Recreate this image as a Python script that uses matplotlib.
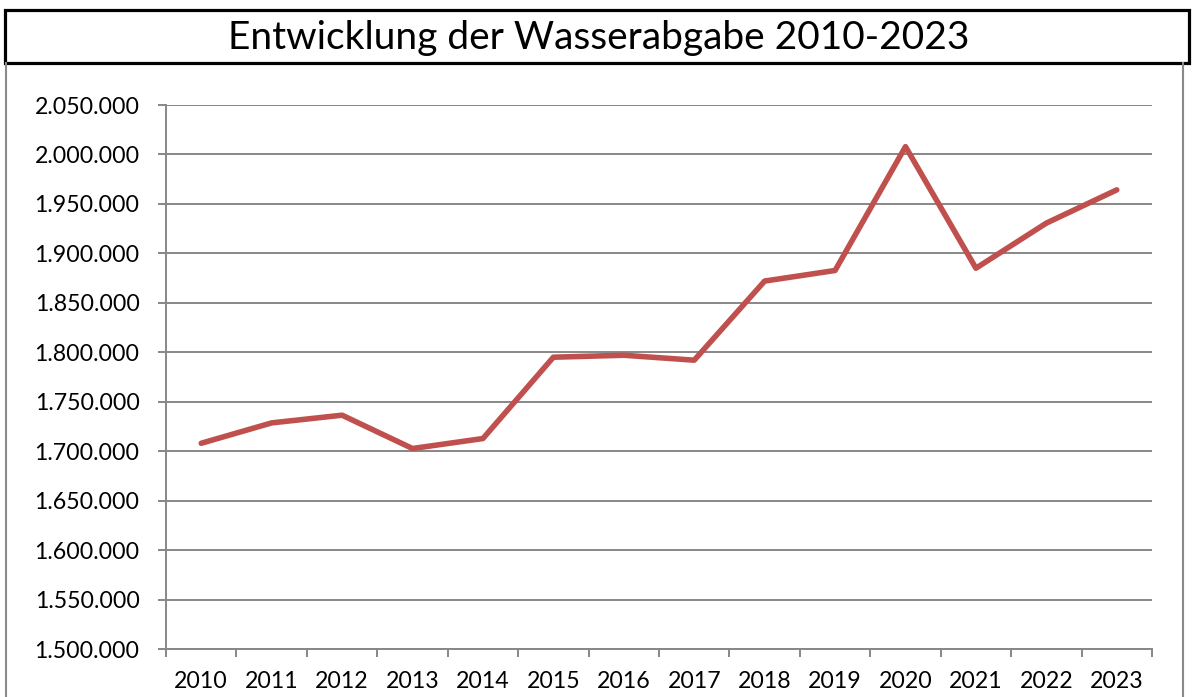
import numpy as np
import matplotlib
matplotlib.use('Agg')
import matplotlib.pyplot as plt
from matplotlib.patches import Rectangle
from matplotlib.lines import Line2D
from matplotlib.ticker import FuncFormatter, MultipleLocator, FixedLocator

plt.rcParams['font.family'] = ['Lato', 'DejaVu Sans']

years = ['2010', '2011', '2012', '2013', '2014', '2015', '2016',
         '2017', '2018', '2019', '2020', '2021', '2022', '2023']
abgabe = [1708000, 1728600, 1736400, 1702700, 1712800, 1795000, 1797000,
          1792000, 1872000, 1882700, 2007900, 1885000, 1930600, 1964200]
title = 'Entwicklung der Wasserabgabe 2010-2023'

grid_c = '#878787'

fig = plt.figure(figsize=(11.92, 6.97), dpi=100)
ax = fig.add_axes([166/1192, 1-649/697, (1152-166)/1192, (649-105)/697])

x = np.arange(len(years))
ax.plot(x, abgabe, color='#C0504D', lw=4, solid_joinstyle='round', solid_capstyle='round', zorder=3)

ax.set_xlim(-0.5, len(years)-0.5)
ax.set_ylim(1500000, 2050000)
ax.yaxis.set_major_locator(MultipleLocator(50000))
ax.yaxis.set_major_formatter(FuncFormatter(lambda v, p: f'{int(v):,}'.replace(',', '.')))
ax.grid(axis='y', color=grid_c, lw=1.4, zorder=1)

ax.xaxis.set_major_locator(FixedLocator(np.arange(-0.5, len(years), 1.0)))
ax.xaxis.set_major_formatter(plt.NullFormatter())
ax.xaxis.set_minor_locator(FixedLocator(x))
ax.set_xticklabels(years, minor=True)
ax.tick_params(axis='x', which='major', length=6, width=1.4, color=grid_c)
ax.tick_params(axis='x', which='minor', length=0, pad=16, labelsize=16.7)
ax.tick_params(axis='y', length=6, width=1.4, color=grid_c, pad=13, labelsize=16.7)

for s in ['top', 'right']:
    ax.spines[s].set_visible(False)
for s in ['left', 'bottom']:
    ax.spines[s].set_color(grid_c)
    ax.spines[s].set_linewidth(1.4)

# outer frame and title box
fig.add_artist(Line2D([6/1192, 6/1192], [0, 1-63/697], transform=fig.transFigure, color='#8a8a8a', lw=1.5))
fig.add_artist(Line2D([1183/1192, 1183/1192], [0, 1-63/697], transform=fig.transFigure, color='#8a8a8a', lw=1.5))
fig.add_artist(Rectangle((5/1192, 1-63/697), 1184/1192, 53/697, transform=fig.transFigure,
                         fill=False, edgecolor='black', lw=2.3))
fig.text(0.502, 1-38/697, title, ha='center', va='center', fontsize=28)

fig.savefig('out.png', dpi=100)
